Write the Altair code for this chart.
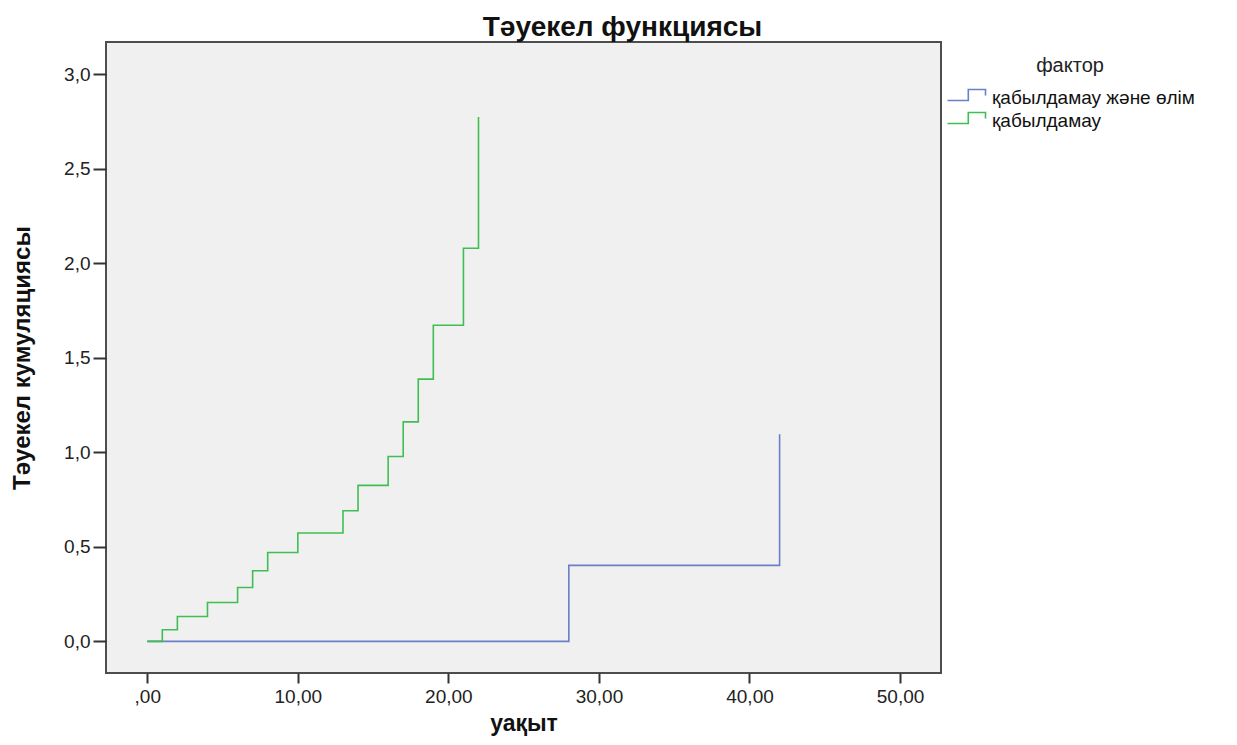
import altair as alt
import pandas as pd

# --- data ---
series_names = ["қабылдамау және өлім", "қабылдамау"]
blue_t = [0, 28, 42]
blue_h = [0.0, 0.402, 1.096]
green_t = [0, 1, 2, 4, 6, 7, 8, 10, 13, 14, 16, 17, 18, 19, 21, 22]
green_h = [0.0, 0.062, 0.132, 0.206, 0.285, 0.374, 0.470, 0.573, 0.691, 0.825,
           0.978, 1.161, 1.387, 1.672, 2.079, 2.773]
x_ticks = [0, 10, 20, 30, 40, 50]
y_ticks = [0.0, 0.5, 1.0, 1.5, 2.0, 2.5, 3.0]
colors = ["#6a7fc8", "#3fbf52"]

rows = []
for t, h in zip(blue_t, blue_h):
    rows.append({"t": t, "h": h, "f": series_names[0]})
for t, h in zip(green_t, green_h):
    rows.append({"t": t, "h": h, "f": series_names[1]})
df = pd.DataFrame(rows)

FONT = "Liberation Sans"
step_path = "M-1,0.375L1.6,0.375L1.6,-1L3.75,-1L3.75,-0.25"

chart = alt.Chart(df).mark_line(interpolate="step-after", strokeWidth=1.6).encode(
    x=alt.X("t:Q",
            scale=alt.Scale(domain=[-2.74, 52.72], nice=False, zero=False),
            axis=alt.Axis(values=x_ticks, title="уақыт",
                          labelExpr="datum.value == 0 ? ',00' : replace(format(datum.value, '.2f'), '.', ',')",
                          grid=False, domain=False, tickSize=10, tickWidth=2, tickColor="#333333",
                          labelFontSize=19, labelPadding=4, labelColor="#222222", labelFont=FONT,
                          titleFontSize=23, titleFontWeight="bold", titleFont=FONT, titleColor="#111111",
                          titlePadding=6)),
    y=alt.Y("h:Q",
            scale=alt.Scale(domain=[-0.167, 3.17], nice=False, zero=False),
            axis=alt.Axis(values=y_ticks, title="Тәуекел кумуляциясы",
                          labelExpr="replace(format(datum.value, '.1f'), '.', ',')",
                          grid=False, domain=False, tickSize=13, tickWidth=2, tickColor="#333333",
                          labelFontSize=19, labelPadding=3, labelColor="#222222", labelFont=FONT,
                          titleFontSize=24, titleFontWeight="bold", titleFont=FONT, titleColor="#111111",
                          titlePadding=29)),
    color=alt.Color("f:N",
                    scale=alt.Scale(domain=series_names, range=colors),
                    legend=alt.Legend(title="фактор", orient="none", legendX=840, legendY=14,
                                      symbolType=step_path, symbolSize=256, symbolStrokeWidth=1.6,
                                      symbolFillColor="transparent",
                                      labelFontSize=19, labelFont=FONT, labelColor="#111111",
                                      labelOffset=27, rowPadding=1, padding=0,
                                      titleFontSize=20, titleFont=FONT, titleFontWeight="normal",
                                      titleColor="#222222", titleAnchor="middle", titlePadding=12,
                                      labelLimit=400)),
).properties(
    width=835,
    height=631,
    title=alt.TitleParams("Тәуекел функциясы", fontSize=28, fontWeight="bold", font=FONT,
                          color="#111111", anchor="middle", dx=99, offset=0),
    autosize=alt.AutoSizeParams(type="none"),
    padding={"left": 98, "top": 34, "right": 288, "bottom": 64},
    background="white",
).configure_view(
    fill="#f0f0f0", stroke="#4d4d4d", strokeWidth=2
)

chart.save("out.html", embed_options={"renderer": "svg", "actions": False})
